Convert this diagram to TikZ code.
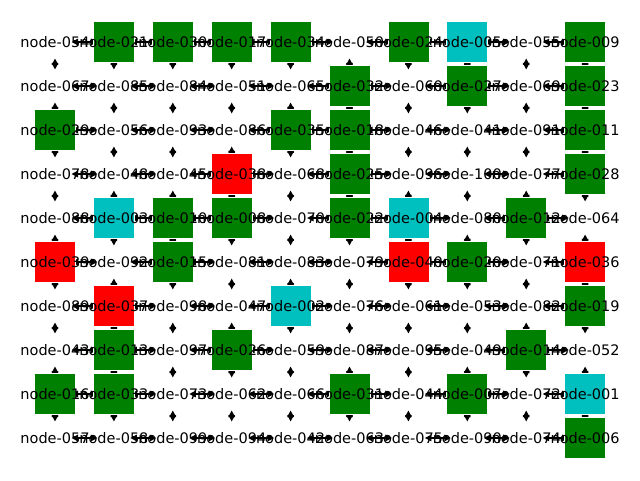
\documentclass[tikz,border=0pt]{standalone}
\usepackage{fontspec}
\setmainfont{DejaVu Sans}
\usetikzlibrary{backgrounds, arrows.meta}
\definecolor{nxgreen}{RGB}{0,128,0}
\definecolor{nxcyan}{RGB}{0,191,191}
\definecolor{nxred}{RGB}{255,0,0}
\tikzset{
	box/.style={rectangle, minimum size=41pt, inner sep=0pt, font=\fontsize{14.5}{16}\selectfont},
	boxp/.style={box},
	boxg/.style={box, fill=nxgreen, draw=white, line width=0.8pt},
	boxc/.style={box, fill=nxcyan, draw=white, line width=0.8pt},
	boxr/.style={box, fill=nxred, draw=white, line width=0.8pt},
	link/.style={{Triangle[length=6.5pt,width=6.5pt]}-{Triangle[length=6.5pt,width=6.5pt]}, line width=1.4pt, shorten <=16.5pt, shorten >=16.5pt}
}
\begin{document}
\begin{tikzpicture}[x=1pt, y=1pt]
	\useasboundingbox (0,0) rectangle (640,480);
	\foreach \rowlist [count=\i from 0] in {%
		{054/p,021/g,030/g,017/g,034/g,050/p,024/g,005/c,055/p,009/g},%
		{067/p,085/p,084/p,051/p,065/p,032/g,060/p,027/g,069/p,023/g},%
		{029/g,056/p,093/p,086/p,035/g,018/g,046/p,041/p,091/p,011/g},%
		{078/p,048/p,045/p,038/r,068/p,025/g,096/p,100/p,077/p,028/g},%
		{088/p,003/c,010/g,008/g,070/p,022/g,004/c,080/p,012/g,064/p},%
		{039/r,092/p,015/g,081/p,083/p,079/p,040/r,020/g,071/p,036/r},%
		{089/p,037/r,098/p,047/p,002/c,076/p,061/p,053/p,082/p,019/g},%
		{043/p,013/g,097/p,026/g,059/p,087/p,095/p,049/p,014/g,052/p},%
		{016/g,033/g,073/p,062/p,066/p,031/g,044/p,007/g,072/p,001/c},%
		{057/p,058/p,099/p,094/p,042/p,063/p,075/p,090/p,074/p,006/g}%
	}{
		\foreach \lab/\col [count=\j from 0] in \rowlist {
			\node[box\col] (n-\i-\j) at (55+58.9*\j, 438-44*\i) {\makebox[0pt]{node-\lab}};
		}
	}
	% edges under the boxes and labels
	\begin{pgfonlayer}{background}
		\foreach \i in {0,...,9} {
			\foreach \j [evaluate=\j as \k using int(\j+1)] in {0,...,8} {
				\draw[link] (n-\i-\j.center) -- (n-\i-\k.center);
				\draw[link] (n-\j-\i.center) -- (n-\k-\i.center);
			}
		}
	\end{pgfonlayer}
\end{tikzpicture}
\end{document}
